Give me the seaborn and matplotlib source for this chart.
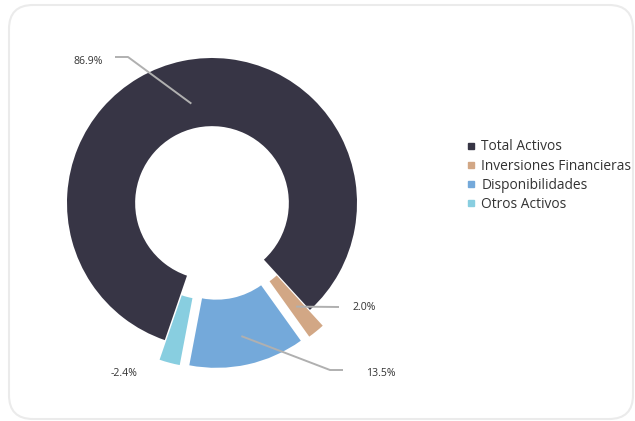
import numpy as np
import matplotlib
matplotlib.use("Agg")
import matplotlib.pyplot as plt
from matplotlib.patches import FancyBboxPatch
from matplotlib.lines import Line2D
from matplotlib.transforms import IdentityTransform
import seaborn as sns

# data
categories = ["Total Activos", "Inversiones Financieras", "Disponibilidades", "Otros Activos"]
values = [86.9, 2.0, 13.5, -2.4]
label_texts = ["86.9%", "2.0%", "13.5%", "-2.4%"]
colors = ["#373545", "#D2A785", "#74A9DA", "#88CEE0"]

sns.set_theme(style="white")
plt.rcParams["font.family"] = ["Open Sans", "DejaVu Sans"]

W, H = 635, 421
fig = plt.figure(figsize=(W / 100, H / 100), dpi=100)
fig.patch.set_facecolor("white")

# rounded card behind everything (pixel coords, origin bottom-left)
card = FancyBboxPatch((9, 2), 624, 414,
                      boxstyle="round,pad=0,rounding_size=24",
                      transform=IdentityTransform(), facecolor="white",
                      edgecolor="#ebebeb", linewidth=1.5, zorder=-10)
fig.patches.append(card)

# pie axes: centre (212, 203) px, radius 145 px
R = 145
cx, cy = 212, 203
span = 1.4
ax = fig.add_axes([(cx - span * R) / W, (H - cy - span * R) / H,
                   2 * span * R / W, 2 * span * R / H])
ax.patch.set_alpha(0)

sizes = np.abs(values)
explode = [0, 0.14, 0.14, 0.14]
wedges, _ = ax.pie(sizes, colors=colors, startangle=251, counterclock=False,
                   explode=explode, radius=1.0,
                   wedgeprops=dict(width=0.47, edgecolor="none"))
ax.set_xlim(-span, span)
ax.set_ylim(-span, span)
ax.set_aspect("equal")
ax.axis("off")


def px(x, y):
    # pixel position (from top-left) -> pie data coords
    return (x - cx) / R, (cy - y) / R


def anchor(w, r):
    ang = np.deg2rad((w.theta1 + w.theta2) / 2)
    c0, c1 = w.center
    return c0 + r * np.cos(ang), c1 + r * np.sin(ang)


line_kw = dict(color="#b0b0b0", lw=1.4, solid_capstyle="butt")
txt_kw = dict(fontsize=7.6, color="#333333", va="center")

# 86.9%
a = anchor(wedges[0], 0.70)
p1, p2 = px(128, 57), px(115, 57)
ax.plot([a[0], p1[0], p2[0]], [a[1], p1[1], p2[1]], **line_kw)
t = px(103, 61)
ax.text(t[0], t[1], label_texts[0], ha="right", **txt_kw)

# 2.0%
a = anchor(wedges[1], 0.78)
p1 = px(339, 307)
ax.plot([a[0], p1[0]], [a[1], p1[1]], **line_kw)
t = px(352, 308)
ax.text(t[0], t[1], label_texts[1], ha="left", **txt_kw)

# 13.5%
a = anchor(wedges[2], 0.80)
p1, p2 = px(330, 370), px(343, 370)
ax.plot([a[0], p1[0], p2[0]], [a[1], p1[1], p2[1]], **line_kw)
t = px(366, 374)
ax.text(t[0], t[1], label_texts[2], ha="left", **txt_kw)

# -2.4%
t = px(137, 374)
ax.text(t[0], t[1], label_texts[3], ha="right", **txt_kw)

handles = [Line2D([0], [0], marker="s", linestyle="none", markersize=4.5,
                  markerfacecolor=c, markeredgecolor=c) for c in colors]
fig.legend(handles, categories, loc="upper left",
           bbox_to_anchor=(460 / W, 1 - 134 / H), frameon=False,
           fontsize=9.9, labelcolor="#333333", handlelength=0.8,
           handletextpad=0.35, labelspacing=0.3, borderaxespad=0)

fig.savefig("out.png", dpi=100)
